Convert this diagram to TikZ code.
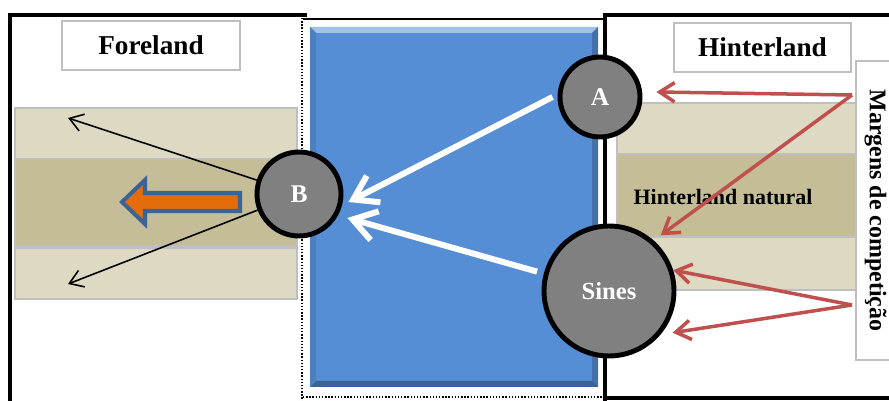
\documentclass[tikz,border=0pt]{standalone}
\usepackage{fontspec}
\setmainfont{Liberation Serif}
\usepackage{xcolor}
\usepackage{tikz}
\usetikzlibrary{positioning,calc,arrows.meta}
\definecolor{bandlight}{HTML}{DDD9C3}
\definecolor{banddark}{HTML}{C4BD97}
\definecolor{bandline}{HTML}{BFBFBF}
\definecolor{seablue}{HTML}{558ED5}
\definecolor{portred}{HTML}{C0504D}
\definecolor{floworange}{HTML}{E46C0A}
\definecolor{flowedge}{HTML}{3B6396}
\tikzset{
    port/.style={circle, draw=black, line width=2.8pt, fill=gray, text=white, font=\bfseries\fontsize{14.5}{17}\selectfont, inner sep=0pt},
    band/.style={draw=bandline, line width=1.2pt},
    tag/.style={draw=bandline, line width=1.2pt, fill=white, font=\bfseries\fontsize{15.5}{18}\selectfont, inner sep=0pt},
    sealink/.style={draw=white, line width=3.4pt, -{Straight Barb[length=13pt,width=17pt]}},
    landlink/.style={draw=portred, line width=2pt, -{Straight Barb[length=8.5pt,width=11pt]}},
    outlink/.style={draw=black, line width=0.9pt, -{Straight Barb[length=7.5pt,width=10pt]}}
}

\begin{document}
\begin{tikzpicture}[x=0.02cm, y=-0.02cm]
    \useasboundingbox (0,0) rectangle (889,401);

    % Frames
    \draw[line width=2.5pt] (10,401) -- (10,15) -- (307,15);
    \draw[densely dotted, line width=0.8pt] (302,18) -- (302,401);
    \draw[line width=1pt] (303,19) -- (605,19);
    \draw[densely dotted, line width=0.8pt] (303,397) -- (605,397);
    \draw[line width=2.5pt] (605,401) -- (605,15) -- (889,15);
    \draw[line width=2.5pt] (605,398) -- (889,398);

    % Bands (foreland)
    \draw[band, fill=bandlight] (15,108) rectangle (297,159);
    \draw[band, fill=banddark] (15,159) rectangle (297,246);
    \draw[band, fill=bandlight] (15,248) rectangle (297,299);

    % Bands (hinterland)
    \draw[band, fill=bandlight] (617,103) rectangle (856,154);
    \draw[band, fill=banddark] (617,154) rectangle (856,237);
    \draw[band, fill=bandlight] (617,237) rectangle (856,290);

    % Sea
    \fill[seablue] (310,27) rectangle (598,387);
    \fill[seablue!55!white] (310,27) -- (598,27) -- (592,33) -- (316,33) -- cycle;
    \fill[seablue!80!black] (598,27) -- (598,387) -- (592,381) -- (592,33) -- cycle;
    \fill[seablue!70!black] (310,387) -- (598,387) -- (592,381) -- (316,381) -- cycle;
    \fill[seablue!90!black] (310,27) -- (316,33) -- (316,381) -- (310,387) -- cycle;

    % Labels
    \node[tag, minimum width=3.56cm, minimum height=0.98cm] (foreland) at (151,45.5) {Foreland};
    \node[tag, minimum width=3.54cm, minimum height=0.98cm] (hinterland) at (762.5,47.5) {Hinterland};
    \node[tag, rotate=-90, minimum width=5.98cm, minimum height=0.78cm, font=\bfseries\fontsize{13.6}{16}\selectfont] (margens) at (875.5,210.5) {Margens de competição};
    \node[font=\bfseries\fontsize{12.5}{15}\selectfont] (natural) at (723,197) {Hinterland natural};

    % Ports
    \node[port, minimum size=1.6cm] (A) at (600,97) {A};
    \node[port, minimum size=1.68cm] (B) at (299,194) {B};
    \node[port, minimum size=2.6cm, font=\bfseries\fontsize{14}{16}\selectfont] (sines) at (609,291) {Sines};

    % Flow out of B
    \draw[flowedge, line width=2.3pt, fill=floworange, line join=miter] (240,193) -- (145,193) -- (145,180) -- (122,202) -- (145,224) -- (145,211) -- (240,211) -- cycle;
    \coordinate (fu) at (68,118);
    \coordinate (fd) at (68,284);
    \draw[outlink] (B) -- (fu);
    \draw[outlink] (B) -- (fd);

    % Sea links
    \draw[sealink] ([xshift=-0.1cm]A.west) -- ([shift={(0.1cm,-0.16cm)}]B.east);
    \draw[sealink, shorten <=4pt] (sines.165) -- ([shift={(0.08cm,-0.48cm)}]B.east);

    % Competition margins
    \coordinate (mu) at (852,95);
    \coordinate (md) at (852,305);
    \draw[landlink] (mu) -- ([shift={(0.28cm,0.1cm)}]A.east);
    \draw[landlink] (mu) -- ([shift={(0.08cm,0.16cm)}]sines.north east);
    \draw[landlink] (md) -- (sines.18);
    \draw[landlink] (md) -- ([shift={(0.14cm,-0.1cm)}]sines.-33);
\end{tikzpicture}
\end{document}
